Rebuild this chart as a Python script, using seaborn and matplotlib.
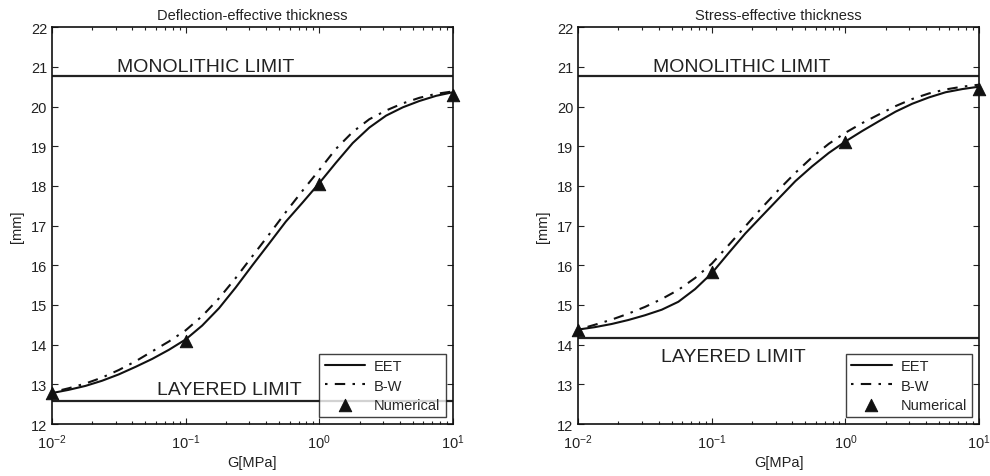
import matplotlib
matplotlib.use("Agg")
import matplotlib.pyplot as plt
import seaborn as sns
import numpy as np
import pandas as pd
from matplotlib.ticker import LogLocator

# ---- data ----
G = [0.01, 0.0133, 0.0178, 0.0237, 0.0316, 0.0422, 0.0562, 0.075,
     0.1, 0.133, 0.178, 0.237, 0.316, 0.422, 0.562, 0.75,
     1.0, 1.33, 1.78, 2.37, 3.16, 4.22, 5.62, 7.5, 10.0]

eet_deflection = [12.78, 12.86, 12.96, 13.09, 13.25, 13.44, 13.64, 13.87,
                  14.13, 14.48, 14.92, 15.44, 16.0, 16.55, 17.1, 17.58,
                  18.07, 18.58, 19.08, 19.47, 19.77, 19.98, 20.14, 20.27, 20.36]
bw_deflection = [12.80, 12.90, 13.02, 13.17, 13.36, 13.58, 13.83, 14.08,
                 14.36, 14.72, 15.17, 15.68, 16.23, 16.78, 17.34, 17.88,
                 18.4, 18.93, 19.36, 19.68, 19.9, 20.08, 20.22, 20.32, 20.38]

eet_stress = [14.38, 14.44, 14.52, 14.62, 14.74, 14.88, 15.08, 15.40,
              15.80, 16.30, 16.80, 17.24, 17.68, 18.12, 18.49, 18.83,
              19.12, 19.38, 19.63, 19.87, 20.07, 20.23, 20.36, 20.44, 20.50]
bw_stress = [14.38, 14.50, 14.63, 14.78, 14.95, 15.15, 15.38, 15.68,
             16.04, 16.5, 16.98, 17.45, 17.9, 18.33, 18.72, 19.06,
             19.34, 19.58, 19.8, 20.01, 20.19, 20.33, 20.43, 20.5, 20.55]

G_num = [0.01, 0.1, 1.0, 10.0]
num_deflection = [12.78, 14.1, 18.05, 20.3]
num_stress = [14.38, 15.82, 19.1, 20.44]

monolithic_limit = [20.77, 20.77]
layered_limit = [12.59, 14.16]

titles = ["Deflection-effective thickness", "Stress-effective thickness"]
yticks = list(range(12, 23))

sns.set_style("ticks")
plt.rcParams["font.family"] = ["Liberation Sans", "DejaVu Sans"]
plt.rcParams["mathtext.fontset"] = "custom"
plt.rcParams["mathtext.rm"] = "Liberation Sans"
plt.rcParams["mathtext.it"] = "Liberation Sans:italic"

fig = plt.figure(figsize=(9.9, 4.77), dpi=100)
fig.patch.set_facecolor("white")
positions = [[0.0525, 0.109, 0.405, 0.832], [0.584, 0.109, 0.405, 0.832]]

datasets = [
    (eet_deflection, bw_deflection, num_deflection),
    (eet_stress, bw_stress, num_stress),
]
mono_text_x = [0.0306, 0.0362]
layer_text = [(0.061, 12.76), (0.0416, 13.6)]

for i, (eet, bw, num) in enumerate(datasets):
    ax = fig.add_axes(positions[i])
    df = pd.DataFrame({"G": G, "EET": eet, "BW": bw})
    ax.axhline(monolithic_limit[i], color="#222222", lw=1.6, zorder=1)
    ax.axhline(layered_limit[i], color="#222222", lw=1.6, zorder=1)
    sns.lineplot(data=df, x="G", y="EET", ax=ax, color="#111111", lw=1.5,
                 label="EET", zorder=3)
    sns.lineplot(data=df, x="G", y="BW", ax=ax, color="#111111", lw=1.5,
                 label="B-W", zorder=3, linestyle=(0, (1.2, 3.5, 5, 3.5)))
    dn = pd.DataFrame({"G": G_num, "N": num})
    sns.scatterplot(data=dn, x="G", y="N", ax=ax, marker="^", s=80, color="#111111",
                    edgecolor="#111111", label="Numerical", zorder=4, clip_on=False)
    ax.set_xscale("log")
    ax.set_xlim(0.01, 10)
    ax.set_ylim(12, 22)
    ax.set_yticks(yticks)
    ax.xaxis.set_minor_locator(LogLocator(base=10, subs=np.arange(2, 10)))
    ax.tick_params(which="both", direction="in", top=True, right=True,
                   labelsize=10.5, colors="#222222", length=4, width=0.8)
    ax.tick_params(which="minor", length=2.5)
    ax.tick_params(axis="x", which="major", pad=6)
    for s in ax.spines.values():
        s.set_visible(True)
        s.set_linewidth(1.2)
        s.set_color("#111111")
    ax.set_title(titles[i], fontsize=10.5, color="#222222", pad=6)
    ax.set_xlabel("G[MPa]", fontsize=10.5, color="#222222", labelpad=3)
    ax.set_ylabel("[mm]", fontsize=10.5, color="#222222", labelpad=5)
    ax.text(mono_text_x[i], 20.9, "MONOLITHIC LIMIT", fontsize=14, color="#222222")
    ax.text(layer_text[i][0], layer_text[i][1], "LAYERED LIMIT", fontsize=14, color="#222222")
    leg = ax.legend(loc="lower right", fontsize=10.5, frameon=True, fancybox=False,
                    edgecolor="#111111", borderaxespad=0.5, handlelength=2.8,
                    labelspacing=0.35, borderpad=0.35, handletextpad=0.6)
    leg.get_frame().set_linewidth(1.0)

fig.savefig("out.png", dpi=100, facecolor="white")
